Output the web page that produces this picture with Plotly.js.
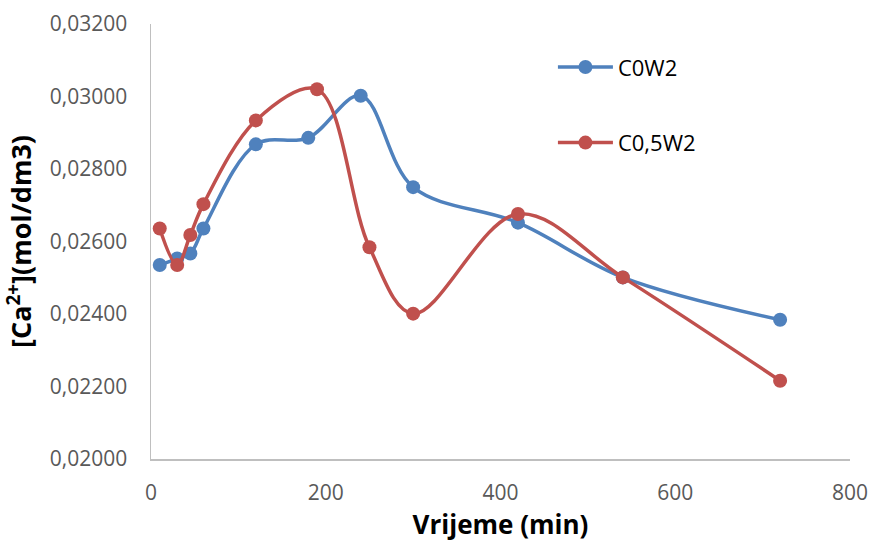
<!DOCTYPE html>
<html>
<head>
<meta charset="utf-8">
<script src="https://cdn.plot.ly/plotly-3.0.1.min.js"></script>
<style>html,body{margin:0;padding:0;background:#fff;}#chart{width:871px;height:547px;}</style>
</head>
<body>
<div id="chart"></div>
<script>
var timeMin = [10, 30, 45, 60, 120, 180, 240, 300, 420, 540, 720];
var c0w2 = [0.02535, 0.02553, 0.02567, 0.02636, 0.02868, 0.02886, 0.03002, 0.02750, 0.02652, 0.02501, 0.02384];
var timeMin2 = [10, 30, 45, 60, 120, 190, 250, 300, 420, 540, 720];
var c05w2 = [0.02636, 0.02535, 0.02618, 0.02703, 0.02934, 0.03020, 0.02584, 0.02401, 0.02676, 0.02501, 0.02216];
var seriesNames = ["C0W2", "C0,5W2"];
var yTicks = [0.020, 0.022, 0.024, 0.026, 0.028, 0.030, 0.032];
var xTicks = [0, 200, 400, 600, 800];

var FONT = "Open Sans, Noto Sans, Liberation Sans, sans-serif";
var traces = [
  {x: timeMin, y: c0w2, name: seriesNames[0], legendgroup: "a", type: "scatter", mode: "lines+markers",
   line: {color: "#4F81BD", width: 3.5, shape: "spline", smoothing: 1},
   marker: {color: "#4F81BD", size: 14}},
  {x: timeMin2, y: c05w2, name: seriesNames[1], legendgroup: "b", type: "scatter", mode: "lines+markers",
   line: {color: "#C0504D", width: 3.5, shape: "spline", smoothing: 1},
   marker: {color: "#C0504D", size: 14}}
];
var layout = {
  width: 871, height: 547,
  margin: {l: 151, r: 21, t: 24, b: 88},
  paper_bgcolor: "#fff", plot_bgcolor: "#fff",
  separators: ", ",
  font: {family: FONT, color: "#595959"},
  showlegend: true,
  legend: {x: 0.575, y: 0.949, xanchor: "left", yanchor: "top",
           font: {family: FONT, size: 22, color: "#000"},
           tracegroupgap: 44, itemwidth: 55, bgcolor: "rgba(0,0,0,0)"},
  xaxis: {range: [0, 800], tickvals: xTicks, showgrid: false, zeroline: false,
          showline: true, linecolor: "#BFBFBF", linewidth: 1.5, ticks: "",
          ticklabelstandoff: 14,
          tickfont: {family: FONT, size: 21, color: "#595959"},
          title: {text: "Vrijeme (min)", standoff: 10,
                  font: {family: FONT, size: 26, color: "#000", weight: "bold"}}},
  yaxis: {range: [0.020, 0.032], tickvals: yTicks, tickformat: ".5f", showgrid: false, zeroline: false,
          showline: true, linecolor: "#BFBFBF", linewidth: 1.5, ticks: "",
          ticklabelstandoff: 18,
          tickfont: {family: FONT, size: 21, color: "#595959"},
          title: {text: "[Ca<sup>2+</sup>](mol/dm3)", standoff: 10,
                  font: {family: FONT, size: 27, color: "#000", weight: "bold"}}}
};
Plotly.newPlot("chart", traces, layout, {staticPlot: true, displayModeBar: false});
</script>
</body>
</html>
